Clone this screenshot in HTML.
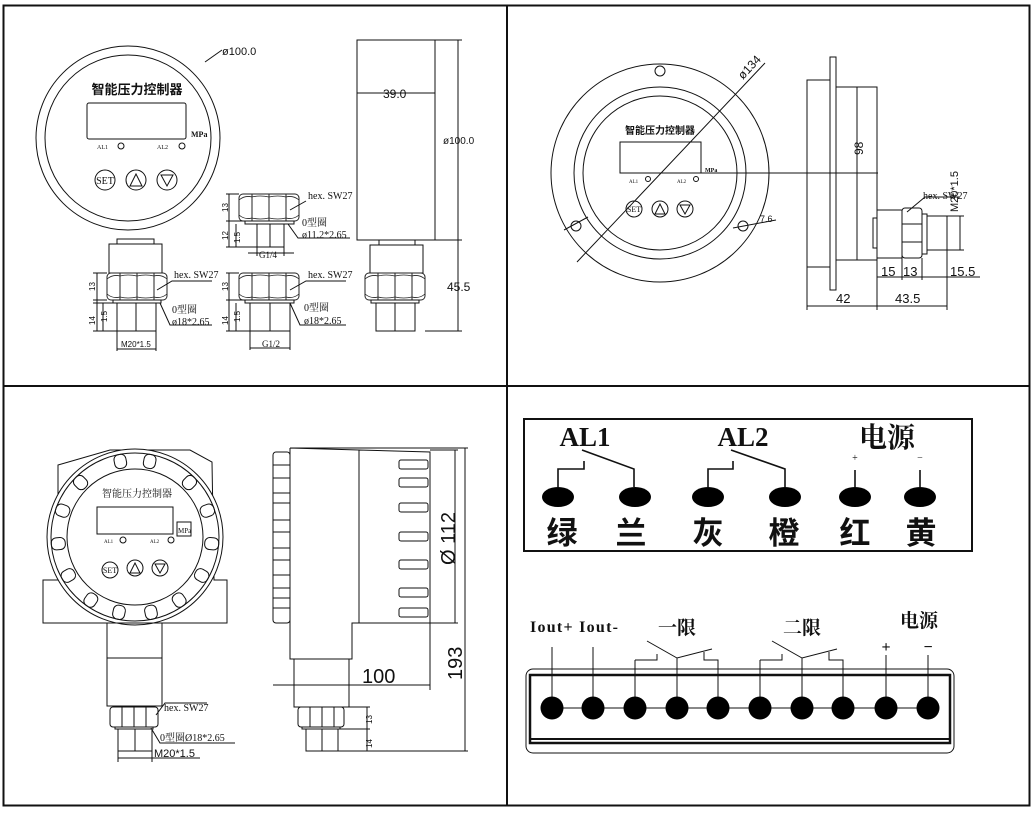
<!DOCTYPE html>
<html><head><meta charset="utf-8"><style>
html,body{margin:0;padding:0;background:#fff}
svg{display:block}
text{font-family:"Liberation Serif","Noto Serif CJK SC",serif;fill:#111}
.s{font-family:"Liberation Sans","Noto Sans CJK SC",sans-serif}
</style></head><body>
<svg width="1036" height="813" viewBox="0 0 1036 813" xmlns="http://www.w3.org/2000/svg">
<defs>
<g id="nut">
<rect x="0" y="0" width="60" height="27" rx="4" fill="none" stroke="#222" stroke-width="1"/>
<path d="M13 0 L13 27 M30 0 L30 27 M47 0 L47 27" stroke="#222" fill="none" stroke-width="1"/>
<path d="M0 6 Q6 1 13 3 Q21 1 30 3 Q39 1 47 3 Q54 1 60 6 M0 21 Q6 26 13 24 Q21 26 30 24 Q39 26 47 24 Q54 26 60 21" stroke="#222" fill="none" stroke-width="0.8"/>
</g>
</defs>
<g fill="none" stroke="#111" stroke-width="1">
<rect x="3.5" y="5.5" width="1026" height="800" stroke-width="2"/>
<line x1="507" y1="5" x2="507" y2="806" stroke-width="2"/>
<line x1="3" y1="386" x2="1030" y2="386" stroke-width="2"/>

<circle cx="128" cy="138" r="92"/>
<circle cx="128" cy="138" r="83"/>
<rect x="87" y="103" width="99" height="36" rx="2"/>
<circle cx="121" cy="146" r="3"/><circle cx="182" cy="146" r="3"/>
<circle cx="105" cy="180" r="10"/><circle cx="136" cy="180" r="10"/><circle cx="167" cy="180" r="10"/>
<path d="M130 186 L136 174 L142 186 Z M161 175 L173 175 L167 186 Z"/>
<path d="M205 62 L222 50"/>
<rect x="117" y="239" width="37" height="5"/>
<rect x="109" y="244" width="53" height="29"/>
<use href="#nut" x="107" y="273"/>
<rect x="113" y="300" width="48" height="3"/>
<rect x="117" y="303" width="39" height="28"/>
<line x1="136" y1="303" x2="136" y2="331"/>
<path d="M97 273 L97 331 M93 273 L107 273 M93 300 L107 300 M93 303 L113 303 M93 331 L117 331 M103 303 L103 331"/>
<path d="M117 331 L117 351 M156 331 L156 351 M117 349 L156 349"/>
<path d="M157 290 L172 281 L212 281 M160 303 L170 325 L212 325"/>

<use href="#nut" x="239" y="194"/>
<rect x="245" y="221" width="49" height="3"/>
<rect x="257" y="224" width="27" height="23"/>
<line x1="270" y1="224" x2="270" y2="247"/>
<path d="M229 194 L229 247 M226 194 L239 194 M226 221 L245 221 M226 247 L257 247 M236 224 L236 247"/>
<path d="M248 253 L294 253 M257 247 L257 256 M284 247 L284 256"/>
<path d="M290 210 L306 201 M288 224 L298 238 L350 238"/>
<use href="#nut" x="239" y="273"/>
<rect x="245" y="300" width="49" height="3"/>
<rect x="250" y="303" width="40" height="28"/>
<line x1="270" y1="303" x2="270" y2="331"/>
<path d="M229 273 L229 331 M226 273 L239 273 M226 300 L245 300 M226 331 L250 331 M236 303 L236 331"/>
<path d="M250 331 L250 350 M290 331 L290 350 M250 348 L290 348"/>
<path d="M290 290 L306 281 L346 281 M290 303 L300 325 L346 325"/>

<rect x="357" y="40" width="78" height="200"/>
<path d="M357 93 L435 93 M435 40 L462 40 M435 240 L462 240 M425 331 L462 331 M458 40 L458 331"/>
<rect x="379" y="240" width="36" height="5"/>
<rect x="370" y="245" width="53" height="28"/>
<use href="#nut" x="365" y="273"/>
<rect x="371" y="300" width="48" height="3"/>
<rect x="376" y="303" width="39" height="28"/>
<line x1="395" y1="303" x2="395" y2="331"/>

<circle cx="660" cy="173" r="109"/>
<circle cx="660" cy="173" r="86"/>
<circle cx="660" cy="173" r="77"/>
<circle cx="660" cy="71" r="5"/><circle cx="576" cy="226" r="5"/><circle cx="743" cy="226" r="5"/>
<rect x="620" y="142" width="81" height="31"/>
<circle cx="648" cy="179" r="2.5"/><circle cx="696" cy="179" r="2.5"/>
<circle cx="634" cy="209" r="8"/><circle cx="660" cy="209" r="8"/><circle cx="685" cy="209" r="8"/>
<path d="M655 214 L660 204 L665 214 Z M680 205 L690 205 L685 214 Z"/>
<path d="M577 262 L765 63 M564 230 L588 217"/>
<path d="M701 173 L878 173"/>
<path d="M733 228 L776 220"/>
<rect x="807" y="80" width="23" height="187"/>
<rect x="830" y="57" width="6" height="233"/>
<rect x="836" y="87" width="41" height="173"/>
<path d="M857 87 L857 260"/>
<rect x="873" y="218" width="4" height="30"/>
<rect x="877" y="210" width="25" height="48"/>
<rect x="902" y="208" width="20" height="50" rx="3"/>
<path d="M902 224 L922 224 M902 242 L922 242"/>
<rect x="922" y="214" width="5" height="40"/>
<rect x="927" y="216" width="20" height="34"/>
<path d="M960 216 L960 250 M947 216 L964 216 M947 250 L964 250"/>
<path d="M907 212 L925 197 L960 197"/>
<path d="M807 267 L807 310 M877 258 L877 310 M947 250 L947 310 M807 306 L947 306 M877 277 L980 277 M902 258 L902 280 M922 258 L922 280"/>

<path d="M43 580 L58 580 L58 465 L110 450 L190 450 L212 462 L214 580 L227 580 L227 623 L43 623 Z"/>
<circle cx="135" cy="537" r="88" fill="#fff"/>
<circle cx="135" cy="537" r="84"/>
<circle cx="135" cy="537" r="68"/>
<g>
<rect x="-6" y="-84" width="12" height="14" rx="5" transform="translate(135 537) rotate(11)"/>
<rect x="-6" y="-84" width="12" height="14" rx="5" transform="translate(135 537) rotate(-11)"/>
<rect x="-6" y="-84" width="12" height="14" rx="5" transform="translate(135 537) rotate(45)"/>
<rect x="-6" y="-84" width="12" height="14" rx="5" transform="translate(135 537) rotate(-45)"/>
<rect x="-6" y="-84" width="12" height="14" rx="5" transform="translate(135 537) rotate(70)"/>
<rect x="-6" y="-84" width="12" height="14" rx="5" transform="translate(135 537) rotate(-70)"/>
<rect x="-6" y="-84" width="12" height="14" rx="5" transform="translate(135 537) rotate(95)"/>
<rect x="-6" y="-84" width="12" height="14" rx="5" transform="translate(135 537) rotate(-95)"/>
<rect x="-6" y="-84" width="12" height="14" rx="5" transform="translate(135 537) rotate(120)"/>
<rect x="-6" y="-84" width="12" height="14" rx="5" transform="translate(135 537) rotate(-120)"/>
<rect x="-6" y="-84" width="12" height="14" rx="5" transform="translate(135 537) rotate(145)"/>
<rect x="-6" y="-84" width="12" height="14" rx="5" transform="translate(135 537) rotate(-145)"/>
<rect x="-6" y="-84" width="12" height="14" rx="5" transform="translate(135 537) rotate(168)"/>
<rect x="-6" y="-84" width="12" height="14" rx="5" transform="translate(135 537) rotate(-168)"/>
</g>
<rect x="97" y="507" width="76" height="27"/>
<rect x="177" y="522" width="14" height="14"/>
<circle cx="123" cy="540" r="3"/><circle cx="171" cy="540" r="3"/>
<circle cx="110" cy="570" r="8"/><circle cx="135" cy="568" r="8"/><circle cx="160" cy="568" r="8"/>
<path d="M130 573 L135 563 L140 573 Z M155 564 L165 564 L160 573 Z"/>
<rect x="107" y="623" width="55" height="35"/>
<rect x="107" y="658" width="55" height="48"/>
<rect x="110" y="707" width="48" height="20" rx="3"/>
<path d="M122 707 L122 727 M134 707 L134 727 M146 707 L146 727"/>
<rect x="115" y="727" width="38" height="2"/>
<rect x="118" y="729" width="34" height="22"/>
<path d="M135 729 L135 751 M118 751 L118 762 M152 751 L152 762 M118 758 L200 758"/>
<path d="M156 715 L165 703 L207 703 M151 728 L160 743 L235 743"/>
<rect x="273" y="452" width="17" height="171" rx="3"/>
<path d="M273 465 L290 465 M273 478 L290 478 M273 503 L290 503 M273 532 L290 532 M273 560 L290 560 M273 588 L290 588 M273 608 L290 608 M273 493 L290 493 M273 520 L290 520 M273 548 L290 548 M273 575 L290 575 M273 598 L290 598"/>
<path d="M290 448 L290 659 L352 659 L352 623 L430 623 L430 452 L359 450 L290 448 M359 450 L359 623"/>
<rect x="399" y="460" width="29" height="9" rx="2"/><rect x="399" y="478" width="29" height="9" rx="2"/><rect x="399" y="503" width="29" height="9" rx="2"/><rect x="399" y="532" width="29" height="9" rx="2"/><rect x="399" y="560" width="29" height="9" rx="2"/><rect x="399" y="588" width="29" height="9" rx="2"/><rect x="399" y="608" width="29" height="9" rx="2"/>
<rect x="294" y="659" width="55" height="48"/>
<rect x="298" y="707" width="46" height="20" rx="3"/>
<path d="M310 707 L310 727 M322 707 L322 727 M334 707 L334 727"/>
<rect x="302" y="727" width="38" height="2"/>
<rect x="306" y="729" width="32" height="22"/>
<path d="M322 729 L322 751"/>
<path d="M273 685 L430 685 M430 623 L430 690 M430 450 L458 450 M430 623 L458 623 M455 450 L455 623 M290 448 L468 448 M465 448 L465 751 M338 751 L468 751 M344 707 L370 707 M340 729 L370 729 M367 707 L367 751"/>

<rect x="524" y="419" width="448" height="132" stroke-width="2"/>
<g stroke-width="1.6">
<path d="M558 487 L558 469 L584 469 L584 461 M582 450 L634 469 L634 487"/>
<path d="M708 487 L708 469 L733 469 L733 461 M731 450 L785 469 L785 487"/>
<path d="M855 470 L855 487 M920 470 L920 487"/>
</g>
<g fill="#000" stroke="none">
<ellipse cx="558" cy="497" rx="16" ry="10"/><ellipse cx="635" cy="497" rx="16" ry="10"/><ellipse cx="708" cy="497" rx="16" ry="10"/><ellipse cx="785" cy="497" rx="16" ry="10"/><ellipse cx="855" cy="497" rx="16" ry="10"/><ellipse cx="920" cy="497" rx="16" ry="10"/>
</g>
<rect x="526" y="669" width="428" height="84" rx="7"/>
<rect x="530" y="675" width="420" height="68" stroke-width="2.5"/>
<path d="M530 739 L950 739" stroke-width="2"/>
<path d="M552 708 L928 708"/>
<path d="M552 708 L552 647 M593 708 L593 647 M886 708 L886 655 M928 708 L928 655"/>
<path d="M635 708 L635 660 M635 660 L657 660 L657 654 M647 641 L677 658 L712 649 M704 652 L704 660 L718 660 L718 708 M677 658 L677 708"/>
<path d="M760 708 L760 660 M760 660 L782 660 L782 654 M772 641 L802 658 L837 649 M829 652 L829 660 L843 660 L843 708 M802 658 L802 708"/>
<g fill="#000" stroke="none">
<circle cx="552" cy="708" r="11.5"/><circle cx="593" cy="708" r="11.5"/><circle cx="635" cy="708" r="11.5"/><circle cx="677" cy="708" r="11.5"/><circle cx="718" cy="708" r="11.5"/><circle cx="760" cy="708" r="11.5"/><circle cx="802" cy="708" r="11.5"/><circle cx="843" cy="708" r="11.5"/><circle cx="886" cy="708" r="11.5"/><circle cx="928" cy="708" r="11.5"/>
</g>
</g>

<g>
<text x="137" y="94" font-size="13" font-weight="bold" text-anchor="middle" class="s">智能压力控制器</text>
<text x="191" y="137" font-size="8" font-weight="bold">MPa</text>
<text x="97" y="149" font-size="6">AL1</text><text x="157" y="149" font-size="6">AL2</text>
<text x="105" y="184" font-size="10" text-anchor="middle">SET</text>
<text x="222" y="55" font-size="11" class="s">ø100.0</text>
<text x="174" y="278" font-size="10">hex. SW27</text>
<text x="172" y="313" font-size="10">0型圈</text>
<text x="172" y="325" font-size="10">ø18*2.65</text>
<text x="121" y="347" font-size="8" class="s">M20*1.5</text>
<text x="308" y="199" font-size="10">hex. SW27</text>
<text x="302" y="226" font-size="10">0型圈</text>
<text x="302" y="238" font-size="10">ø11.2*2.65</text>
<text x="259" y="258" font-size="9">G1/4</text>
<text x="308" y="278" font-size="10">hex. SW27</text>
<text x="304" y="311" font-size="10">0型圈</text>
<text x="304" y="324" font-size="10">ø18*2.65</text>
<text x="262" y="347" font-size="9">G1/2</text>
<text x="383" y="98" font-size="12" class="s">39.0</text>
<text x="443" y="144" font-size="10" class="s">ø100.0</text>
<text x="447" y="291" font-size="12" class="s">45.5</text>
<text font-size="8" class="s" transform="translate(95 291) rotate(-90)">13</text>
<text font-size="8" class="s" transform="translate(95 325) rotate(-90)">14</text>
<text font-size="8" class="s" transform="translate(107 322) rotate(-90)">1.5</text>
<text font-size="8" class="s" transform="translate(228 212) rotate(-90)">13</text>
<text font-size="8" class="s" transform="translate(228 240) rotate(-90)">12</text>
<text font-size="8" class="s" transform="translate(240 243) rotate(-90)">1.5</text>
<text font-size="8" class="s" transform="translate(228 291) rotate(-90)">13</text>
<text font-size="8" class="s" transform="translate(228 325) rotate(-90)">14</text>
<text font-size="8" class="s" transform="translate(240 322) rotate(-90)">1.5</text>

<text x="660" y="134" font-size="10" font-weight="bold" text-anchor="middle" class="s">智能压力控制器</text>
<text x="705" y="172" font-size="6" font-weight="bold">MPa</text>
<text x="629" y="183" font-size="5">AL1</text><text x="677" y="183" font-size="5">AL2</text>
<text x="634" y="212" font-size="8" text-anchor="middle">SET</text>
<text font-size="12" class="s" transform="translate(743 80) rotate(-47)">ø134</text>
<text x="760" y="222" font-size="9" class="s">7.6</text>
<text font-size="12" class="s" transform="translate(863 155) rotate(-90)">98</text>
<text x="923" y="199" font-size="10">hex. SW27</text>
<text font-size="11" class="s" transform="translate(958 212) rotate(-90)">M20*1.5</text>
<text x="881" y="276" font-size="13" class="s">15</text>
<text x="903" y="276" font-size="13" class="s">13</text>
<text x="950" y="276" font-size="13" class="s">15.5</text>
<text x="836" y="303" font-size="13" class="s">42</text>
<text x="895" y="303" font-size="13" class="s">43.5</text>

<text x="137" y="497" font-size="10" text-anchor="middle">智能压力控制器</text>
<text x="178" y="533" font-size="7">MPa</text>
<text x="104" y="543" font-size="5">AL1</text><text x="150" y="543" font-size="5">AL2</text>
<text x="110" y="573" font-size="8" text-anchor="middle">SET</text>
<text x="164" y="711" font-size="10">hex. SW27</text>
<text x="160" y="741" font-size="10">0型圈Ø18*2.65</text>
<text x="154" y="757" font-size="11" class="s">M20*1.5</text>
<text x="362" y="683" font-size="20" class="s">100</text>
<text font-size="20" class="s" transform="translate(455 565) rotate(-90)">Ø 112</text>
<text font-size="20" class="s" transform="translate(462 680) rotate(-90)">193</text>
<text font-size="8" class="s" transform="translate(372 724) rotate(-90)">13</text>
<text font-size="8" class="s" transform="translate(372 748) rotate(-90)">14</text>

<text x="585" y="446" font-size="27" font-weight="bold" text-anchor="middle">AL1</text>
<text x="743" y="446" font-size="27" font-weight="bold" text-anchor="middle">AL2</text>
<text x="887" y="447" font-size="28" font-weight="bold" text-anchor="middle">电源</text>
<text x="855" y="461" font-size="10" text-anchor="middle">+</text>
<text x="920" y="461" font-size="10" text-anchor="middle">−</text>
<text x="562" y="544" font-size="31" font-weight="bold" text-anchor="middle" class="s">绿</text>
<text x="631" y="544" font-size="31" font-weight="bold" text-anchor="middle" class="s">兰</text>
<text x="708" y="544" font-size="31" font-weight="bold" text-anchor="middle" class="s">灰</text>
<text x="784" y="544" font-size="31" font-weight="bold" text-anchor="middle" class="s">橙</text>
<text x="855" y="544" font-size="31" font-weight="bold" text-anchor="middle" class="s">红</text>
<text x="921" y="544" font-size="31" font-weight="bold" text-anchor="middle" class="s">黄</text>

<text x="530" y="632" font-size="16" font-weight="bold" textLength="88">Iout+ Iout-</text>
<text x="658" y="634" font-size="19" font-weight="bold">一限</text>
<text x="783" y="634" font-size="19" font-weight="bold">二限</text>
<text x="900" y="627" font-size="19" font-weight="bold">电源</text>
<text x="886" y="652" font-size="16" font-weight="bold" text-anchor="middle">+</text>
<text x="928" y="652" font-size="16" font-weight="bold" text-anchor="middle">−</text>
</g>
</svg>
</body></html>
